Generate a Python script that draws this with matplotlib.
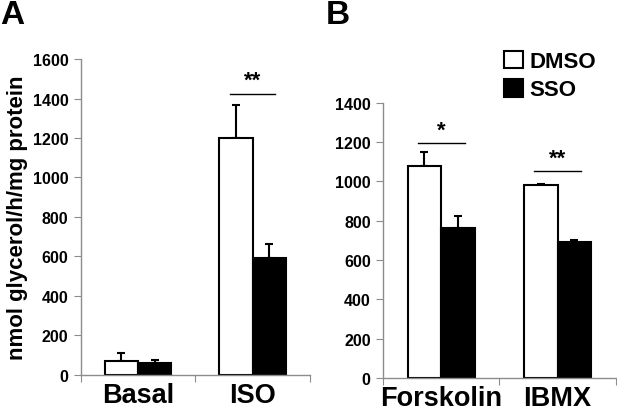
import matplotlib
matplotlib.use("Agg")
import matplotlib.pyplot as plt
import numpy as np

plt.rcParams['font.family'] = ['Liberation Sans', 'DejaVu Sans']
plt.rcParams['font.weight'] = 'bold'

# panel A
cats_a = ["Basal", "ISO"]
dmso_a = [70, 1200]
dmso_a_err = [40, 165]
sso_a = [60, 590]
sso_a_err = [15, 75]

# panel B
cats_b = ["Forskolin", "IBMX"]
dmso_b = [1080, 980]
dmso_b_err = [68, 5]
sso_b = [765, 692]
sso_b_err = [60, 8]

sig_a = [("**", 1, 1425)]
sig_b = [("*", 0, 1195), ("**", 1, 1055)]

W = 0.29
GRAY = "#8c8c8c"


def panel(ax, cats, dmso, dmso_err, sso, sso_err, ymax, ystep, sigs):
    x = np.arange(len(cats)) + 0.5
    ax.bar(x - W / 2, dmso, W, color="white", edgecolor="black", linewidth=1.5,
           label="DMSO", zorder=2)
    ax.bar(x + W / 2, sso, W, color="black", edgecolor="black", linewidth=1.5,
           label="SSO", zorder=2)
    ax.errorbar(x - W / 2, dmso, yerr=[np.zeros(len(x)), dmso_err], fmt="none",
                ecolor="black", elinewidth=1.5, capsize=3, capthick=1.5, zorder=1)
    ax.errorbar(x + W / 2, sso, yerr=[np.zeros(len(x)), sso_err], fmt="none",
                ecolor="black", elinewidth=1.5, capsize=3, capthick=1.5, zorder=1)
    for txt, i, y in sigs:
        ax.plot([x[i] - 0.2, x[i] + 0.2], [y, y], color="black", lw=1)
        ax.text(x[i], y + ymax * 0.008, txt, ha="center", va="bottom", fontsize=16)
    ax.set_xlim(0, len(cats))
    ax.set_ylim(0, ymax)
    ax.set_yticks(np.arange(0, ymax + 1, ystep))
    ax.set_xticks(np.arange(0, len(cats) + 1))
    ax.set_xticklabels([])
    ax.set_xticks(x, minor=True)
    ax.set_xticklabels(cats, minor=True, fontsize=19.5)
    ax.tick_params(axis="x", which="major", length=5, color=GRAY, direction="out")
    ax.tick_params(axis="x", which="minor", length=0, pad=5)
    ax.tick_params(axis="y", length=5, color=GRAY, labelsize=11.5, pad=4)
    for s in ["top", "right"]:
        ax.spines[s].set_visible(False)
    for s in ["left", "bottom"]:
        ax.spines[s].set_color(GRAY)
        ax.spines[s].set_linewidth(1)
    for lab in ax.get_yticklabels():
        lab.set_fontweight("bold")


fig = plt.figure(figsize=(6.17, 4.14), dpi=100)
ax1 = fig.add_axes([0.131, 0.092, 0.371, 0.763])
ax2 = fig.add_axes([0.621, 0.085, 0.377, 0.664])

panel(ax1, cats_a, dmso_a, dmso_a_err, sso_a, sso_a_err, 1600, 200, sig_a)
panel(ax2, cats_b, dmso_b, dmso_b_err, sso_b, sso_b_err, 1400, 200, sig_b)

ax1.set_ylabel("nmol glycerol/h/mg protein", fontsize=16, fontweight="bold", labelpad=3)

fig.text(0.0, 1.0, "A", fontsize=24, fontweight="bold", va="top")
fig.text(0.528, 1.0, "B", fontsize=24, fontweight="bold", va="top")

ax2.legend(loc="upper left", bbox_to_anchor=(0.52, 1.19), frameon=False, fontsize=16,
           handlelength=0.85, handleheight=0.85, handletextpad=0.3, labelspacing=0.3,
           borderaxespad=0, borderpad=0)

fig.savefig("out.png", dpi=100)
